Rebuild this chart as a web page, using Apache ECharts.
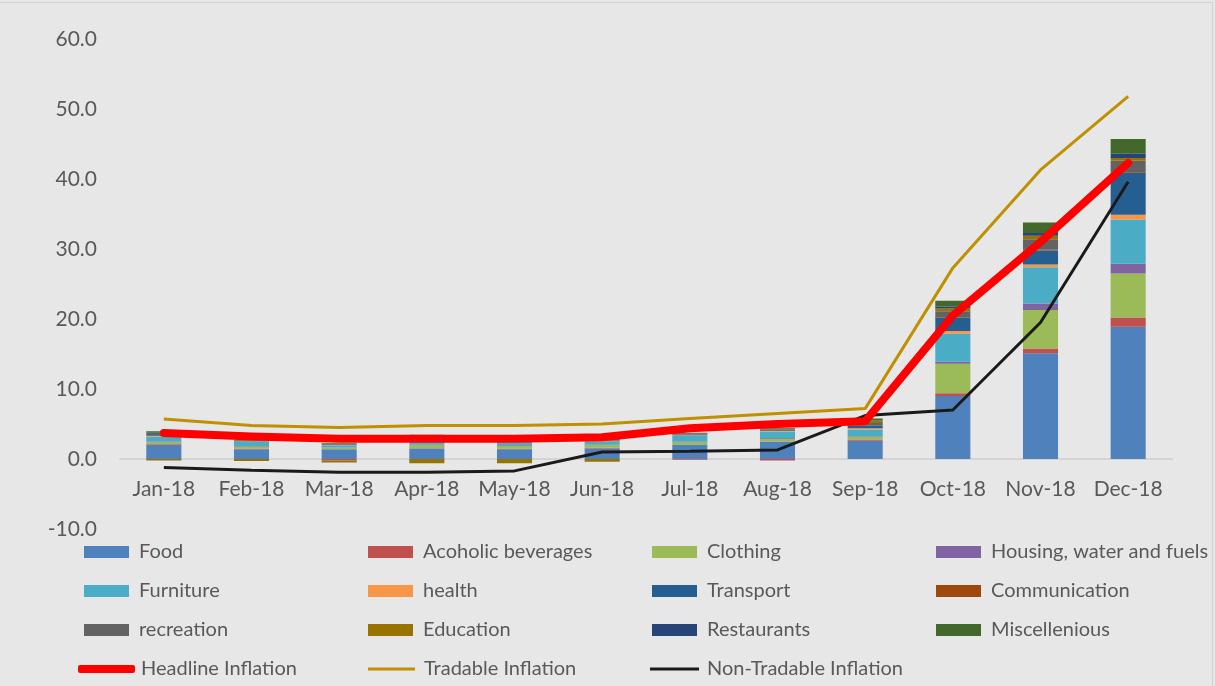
<!DOCTYPE html>
<html><head><meta charset="utf-8">
<script src="https://cdn.jsdelivr.net/npm/echarts@6/dist/echarts.min.js"></script>
<style>html,body{margin:0;padding:0;background:#e7e7e7;}#c{width:1215px;height:686px;}</style>
</head><body><div id="c"></div>
<script>
const categories = ['Jan-18','Feb-18','Mar-18','Apr-18','May-18','Jun-18','Jul-18','Aug-18','Sep-18','Oct-18','Nov-18','Dec-18'];
const food          = [2.0, 1.4, 1.4, 1.5, 1.4, 1.5, 2.0, 2.5, 2.6, 9.0, 15.1, 18.9];
const alcoholic     = [0.1, 0.05, -0.2, 0.05, 0.05, 0.1, -0.1, -0.2, 0.2, 0.4, 0.7, 1.3];
const clothing      = [0.3, 0.35, 0.2, 0.4, 0.4, 0.4, 0.4, 0.4, 0.4, 4.2, 5.5, 6.3];
const housing       = [0.1, 0.05, 0.05, 0.1, 0.1, 0.05, 0.1, 0.1, 0.1, 0.3, 0.9, 1.4];
const furniture     = [0.7, 0.6, 0.3, 0.6, 0.6, 0.4, 0.8, 0.9, 0.9, 4.0, 5.2, 6.3];
const health        = [0.1, 0.05, 0.05, 0.1, 0.1, 0.1, 0.1, 0.1, 0.2, 0.4, 0.4, 0.7];
const transport     = [0.1, 0.05, 0.05, 0.2, 0.2, 0.1, 0.1, 0.1, 0.3, 1.9, 2.0, 6.0];
const communication = [0.0, 0.0, 0.0, 0.0, 0.0, 0.0, 0.0, 0.0, 0.05, 0.1, 0.1, 0.1];
const recreation    = [0.3, 0.1, 0.1, 0.2, 0.2, 0.1, 0.1, 0.1, 0.4, 0.8, 1.5, 1.6];
const education     = [-0.2, -0.3, -0.3, -0.6, -0.6, -0.4, 0.05, 0.05, 0.3, 0.4, 0.5, 0.4];
const restaurants   = [0.05, 0.0, 0.0, 0.0, 0.05, 0.0, 0.05, 0.05, 0.05, 0.3, 0.4, 0.6];
const miscellenious = [0.2, 0.1, 0.1, 0.3, 0.3, 0.1, 0.05, 0.1, 0.3, 0.8, 1.5, 2.1];
const headline      = [3.7, 3.2, 2.9, 2.9, 2.9, 3.1, 4.4, 5.0, 5.4, 20.5, 31.0, 42.3];
const tradable      = [5.7, 4.8, 4.5, 4.8, 4.8, 5.0, 5.8, 6.5, 7.2, 27.3, 41.3, 51.8];
const nonTradable   = [-1.2, -1.6, -1.9, -1.9, -1.7, 1.0, 1.1, 1.3, 6.2, 7.0, 19.5, 39.6];
const yTicks = {min: -10, max: 60, interval: 10};

const barDefs = [
  ['Food', food, '#4F81BD'],
  ['Acoholic beverages', alcoholic, '#C0504D'],
  ['Clothing', clothing, '#9BBB59'],
  ['Housing, water and fuels', housing, '#8064A2'],
  ['Furniture', furniture, '#4BACC6'],
  ['health', health, '#F79646'],
  ['Transport', transport, '#255E91'],
  ['Communication', communication, '#9E480E'],
  ['recreation', recreation, '#636363'],
  ['Education', education, '#997300'],
  ['Restaurants', restaurants, '#264478'],
  ['Miscellenious', miscellenious, '#43682B']
];
const series = barDefs.map(d => ({
  name: d[0], type: 'bar', stack: 'total', data: d[1], barCategoryGap: '60%',
  itemStyle: {color: d[2]}, z: 2
}));
series.push({name: 'Headline Inflation', type: 'line', data: headline, symbol: 'none', showSymbol: false, z: 5,
  lineStyle: {color: '#FF0000', width: 8, cap: 'round', join: 'round'}, itemStyle: {color: '#FF0000'}});
series.push({name: 'Tradable Inflation', type: 'line', data: tradable, symbol: 'none', showSymbol: false, z: 4,
  lineStyle: {color: '#BF9000', width: 3}, itemStyle: {color: '#BF9000'}});
series.push({name: 'Non-Tradable Inflation', type: 'line', data: nonTradable, symbol: 'none', showSymbol: false, z: 4,
  lineStyle: {color: '#1a1a1a', width: 3}, itemStyle: {color: '#1a1a1a'}});

const FONT = 'Lato, "Open Sans", sans-serif';
const mkTxt = p => ({color: '#595959', fontSize: 20, fontFamily: FONT, lineHeight: 20, padding: [0,0,0,p]});
const cols = [
  ['Food','Furniture','recreation'],
  ['Acoholic beverages','health','Education'],
  ['Clothing','Transport','Restaurants'],
  ['Housing, water and fuels','Communication','Miscellenious']
];
const lefts = [84, 368, 652, 936];
const legends = cols.map((c, i) => ({
  data: c.map(n => ({name: n, icon: 'rect'})), orient: 'vertical', left: lefts[i], top: 542, itemGap: 19,
  itemWidth: 45, itemHeight: 12, textStyle: mkTxt(5), selectedMode: false, padding: 0
}));
legends.push({data: [{name: 'Headline Inflation', icon: 'roundRect'}], left: 78, top: 659,
  itemWidth: 57, itemHeight: 8, textStyle: mkTxt(1), selectedMode: false, padding: 0,
  itemStyle: {color: '#FF0000'}, lineStyle: {width: 0}});
legends.push({data: [{name: 'Tradable Inflation', icon: 'rect'}], left: 368, top: 659,
  itemWidth: 47, itemHeight: 3, textStyle: mkTxt(4), selectedMode: false, padding: 0,
  itemStyle: {color: '#BF9000'}, lineStyle: {width: 0}});
legends.push({data: [{name: 'Non-Tradable Inflation', icon: 'rect'}], left: 650, top: 659,
  itemWidth: 49, itemHeight: 3, textStyle: mkTxt(3), selectedMode: false, padding: 0,
  itemStyle: {color: '#1a1a1a'}, lineStyle: {width: 0}});

const chart = echarts.init(document.getElementById('c'));
chart.setOption({
  backgroundColor: '#e7e7e7',
  animation: false,
  graphic: [{type: 'rect', silent: true, z: -1,
    shape: {x: -2, y: 2.5, width: 1214.5, height: 700},
    style: {fill: 'none', stroke: '#d2d2d2', lineWidth: 1}}],
  legend: legends,
  grid: {left: 120, right: 43, top: 39, bottom: 157},
  xAxis: {type: 'category', data: categories, offset: -70,
    axisLine: {onZero: false, lineStyle: {color: '#d4d4d4', width: 2}},
    axisTick: {show: false},
    axisLabel: {color: '#595959', fontSize: 21, fontFamily: FONT, margin: 20, interval: 0}},
  yAxis: {type: 'value', min: yTicks.min, max: yTicks.max, interval: yTicks.interval,
    splitLine: {show: false}, axisLine: {show: false}, axisTick: {show: false},
    axisLabel: {color: '#595959', fontSize: 21, fontFamily: FONT, margin: 23,
      formatter: v => v.toFixed(1)}},
  series: series
});
</script></body></html>
